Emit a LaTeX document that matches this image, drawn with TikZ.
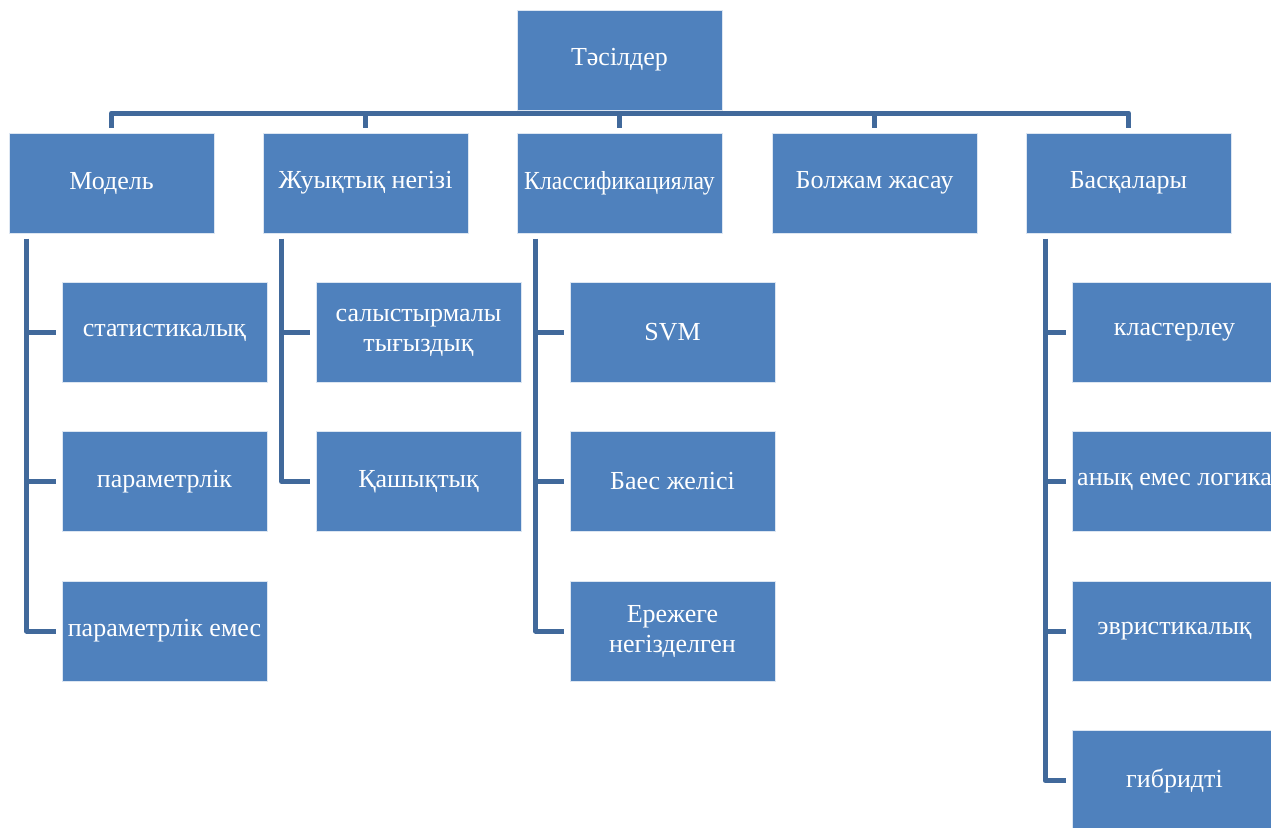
\documentclass[tikz,border=0pt]{standalone}
\usepackage{fontspec}
\setmainfont{Liberation Serif}
\definecolor{boxblue}{HTML}{4F81BD}
\definecolor{connblue}{HTML}{41699B}
\begin{document}
\begin{tikzpicture}[x=1pt,y=1pt,
 box/.style={rectangle, fill=boxblue, draw=white!80!boxblue, line width=1pt,
   minimum width=205pt, minimum height=100pt, inner sep=0pt, text=white,
   font=\fontsize{26}{30}\selectfont, align=center},
 conn/.style={draw=connblue, line width=5pt, line join=round}]
\useasboundingbox (0,0) rectangle (1271,-827);
\clip (0,0) rectangle (1271,-827);
% second row
\node[box] (a1) at (111.5,-183) {Модель};
\node[box] (a2) at (365.5,-183) {Жуықтық негізі};
\node[box] (a3) at (619.5,-183) {\scalebox{0.91}[1]{Классификациялау}};
\node[box] (a4) at (874.5,-183) {Болжам жасау};
\node[box] (a5) at (1128.5,-183) {Басқалары};
% children
\node[box] (m1) at (164.5,-332.5) {статистикалық};
\node[box] (m2) at (164.5,-481.5) {параметрлік};
\node[box] (m3) at (164.5,-631) {параметрлік емес};
\node[box] (j1) at (418.5,-332.5) {салыстырмалы\\тығыздық};
\node[box] (j2) at (418.5,-481.5) {Қашықтық};
\node[box] (k1) at (672.5,-332.5) {SVM};
\node[box] (k2) at (672.5,-481.5) {Баес желісі};
\node[box] (k3) at (672.5,-631) {Ережеге\\негізделген};
\node[box] (b1) at (1174.5,-332.5) {кластерлеу};
\node[box] (b2) at (1174.5,-481.5) {анық емес логика};
\node[box] (b3) at (1174.5,-631) {эвристикалық};
\node[box] (b4) at (1174.5,-780.5) {гибридті};
% bus
\coordinate (bus) at (0,-113);
\draw[conn] ([yshift=5pt]a1.north) -- (a1.north |- bus) -- (a5.north |- bus) -- ([yshift=5pt]a5.north);
\foreach \n in {a2,a3,a4} \draw[conn] (\n.north |- bus) -- ([yshift=5pt]\n.north);
% top node drawn over the bus
\node[box] (top) at (619.5,-60) {Тәсілдер};
% child connectors
\coordinate (mv) at ([xshift=18pt,yshift=-5pt]a1.south west);
\coordinate (jv) at ([xshift=19pt,yshift=-5pt]a2.south west);
\coordinate (kv) at ([xshift=19pt,yshift=-5pt]a3.south west);
\coordinate (bv) at ([xshift=19.5pt,yshift=-5pt]a5.south west);
\draw[conn] (mv) |- ([xshift=-6pt]m3.west);
\foreach \n in {m1,m2} \draw[conn] (\n.west -| mv) -- ([xshift=-6pt]\n.west);
\draw[conn] (jv) |- ([xshift=-6pt]j2.west);
\draw[conn] (j1.west -| jv) -- ([xshift=-6pt]j1.west);
\draw[conn] (kv) |- ([xshift=-6pt]k3.west);
\foreach \n in {k1,k2} \draw[conn] (\n.west -| kv) -- ([xshift=-6pt]\n.west);
\draw[conn] (bv) |- ([xshift=-6pt]b4.west);
\foreach \n in {b1,b2,b3} \draw[conn] (\n.west -| bv) -- ([xshift=-6pt]\n.west);
\end{tikzpicture}
\end{document}
